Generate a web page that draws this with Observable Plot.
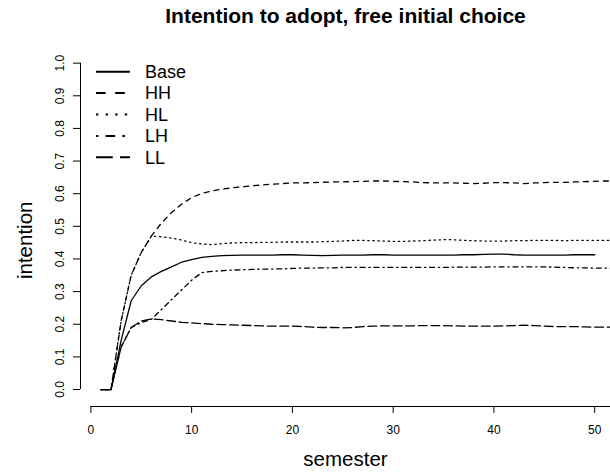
<!DOCTYPE html>
<html>
<head>
<meta charset="utf-8">
<script src="https://cdn.jsdelivr.net/npm/d3@7"></script>
<script src="https://cdn.jsdelivr.net/npm/@observablehq/plot@0.6"></script>
<style>
  body { margin: 0; background: #fff; }
  #chart svg { display: block; }
</style>
</head>
<body>
<div id="chart"></div>
<script>
// ---------- data ----------
const semesters = d3.range(1, 54); // 1..53 (plot is clipped at the right edge)
const seriesNames = ["Base", "HH", "HL", "LH", "LL"];

const base = [0, 0, 0.15, 0.272, 0.318, 0.345, 0.362, 0.376, 0.39, 0.398,
  0.405, 0.408, 0.41, 0.411, 0.412, 0.412, 0.412, 0.412, 0.413, 0.413,
  0.412, 0.411, 0.41, 0.411, 0.412, 0.412, 0.412, 0.413, 0.413, 0.412,
  0.412, 0.412, 0.412, 0.412, 0.412, 0.412, 0.413, 0.413, 0.414, 0.415,
  0.415, 0.413, 0.412, 0.412, 0.412, 0.412, 0.412, 0.413, 0.413, 0.413];

const hh = [0, 0, 0.21, 0.35, 0.42, 0.47, 0.51, 0.542, 0.568, 0.588,
  0.601, 0.608, 0.614, 0.618, 0.621, 0.624, 0.627, 0.629, 0.631, 0.633,
  0.633, 0.634, 0.635, 0.636, 0.636, 0.637, 0.638, 0.639, 0.639, 0.638,
  0.637, 0.636, 0.634, 0.633, 0.633, 0.633, 0.632, 0.631, 0.632, 0.634,
  0.634, 0.633, 0.631, 0.633, 0.634, 0.635, 0.635, 0.636, 0.637, 0.638,
  0.639, 0.639, 0.639];

const hl = [0, 0, 0.21, 0.35, 0.42, 0.47, 0.468, 0.464, 0.458, 0.45,
  0.446, 0.444, 0.447, 0.449, 0.45, 0.45, 0.451, 0.451, 0.452, 0.452,
  0.452, 0.452, 0.453, 0.454, 0.455, 0.457, 0.457, 0.456, 0.455, 0.454,
  0.454, 0.455, 0.456, 0.458, 0.459, 0.459, 0.457, 0.456, 0.455, 0.455,
  0.455, 0.456, 0.456, 0.457, 0.457, 0.457, 0.456, 0.457, 0.457, 0.457,
  0.457, 0.457, 0.457];

const lh = [0, 0, 0.13, 0.19, 0.205, 0.215, 0.245, 0.275, 0.305, 0.335,
  0.358, 0.362, 0.364, 0.366, 0.367, 0.368, 0.369, 0.369, 0.37, 0.371,
  0.372, 0.372, 0.373, 0.373, 0.374, 0.374, 0.374, 0.374, 0.374, 0.374,
  0.374, 0.374, 0.374, 0.374, 0.374, 0.375, 0.375, 0.375, 0.375, 0.376,
  0.376, 0.376, 0.376, 0.376, 0.376, 0.375, 0.374, 0.373, 0.373, 0.372,
  0.372, 0.372, 0.372];

const ll = [0, 0, 0.13, 0.19, 0.21, 0.216, 0.214, 0.21, 0.206, 0.204,
  0.202, 0.2, 0.199, 0.198, 0.197, 0.196, 0.195, 0.194, 0.194, 0.194,
  0.193, 0.191, 0.19, 0.19, 0.189, 0.19, 0.193, 0.194, 0.195, 0.195,
  0.195, 0.195, 0.196, 0.196, 0.196, 0.195, 0.194, 0.194, 0.194, 0.194,
  0.195, 0.196, 0.197, 0.196, 0.194, 0.193, 0.193, 0.193, 0.192, 0.191,
  0.191, 0.191, 0.191];

const xTicks = [0, 10, 20, 30, 40, 50];
const yTicks = [0, 0.1, 0.2, 0.3, 0.4, 0.5, 0.6, 0.7, 0.8, 0.9, 1.0];

const titleText = "Intention to adopt, free initial choice";
const xLabel = "semester";
const yLabel = "intention";

// ---------- build table ----------
const seriesValues = {Base: base, HH: hh, HL: hl, LH: lh, LL: ll};
const rows = [];
for (const name of seriesNames) {
  seriesValues[name].forEach((v, i) => rows.push({series: name, semester: semesters[i], intention: v}));
}

// ---------- styles (R lty equivalents) ----------
const lineStyle = {
  Base: {dash: null,                legendDash: null},
  HH:   {dash: "5,5",               legendDash: "9.6,9.6"},
  HL:   {dash: "1.3,3.8",           legendDash: "2.4,7.2"},
  LH:   {dash: "1.3,3.8,5,3.8",     legendDash: "2.4,7.2,9.6,7.2"},
  LL:   {dash: "8.8,3.8",           legendDash: "16.8,7.2"}
};

// ---------- layout ----------
const W = 610, H = 473;
const margin = {top: 49.6, right: 0, bottom: 67, left: 80};
const xDomain = [-1.03, 51.57];
const yDomain = [-0.052, 1.04];
const font = "'Liberation Sans', Arial, Helvetica, sans-serif";

const lineMarks = seriesNames.map(name => Plot.line(rows.filter(d => d.series === name), {
  x: "semester", y: "intention",
  stroke: "black", strokeWidth: 1.3,
  strokeDasharray: lineStyle[name].dash || undefined,
  strokeLinecap: "round", strokeLinejoin: "round",
  clip: true
}));

const chart = Plot.plot({
  width: W, height: H,
  marginTop: margin.top, marginRight: margin.right, marginBottom: margin.bottom, marginLeft: margin.left,
  style: {fontFamily: font, fontSize: "12px", color: "black", background: "white"},
  x: {domain: xDomain, ticks: xTicks, tickSize: 7, tickPadding: 11.5, tickFormat: d => String(d), label: null},
  y: {domain: yDomain, ticks: yTicks, tickSize: 7, tickFormat: () => "", label: null},
  marks: [
    // axis lines
    Plot.ruleX([xDomain[0]], {y1: yTicks[0], y2: yTicks[yTicks.length - 1], stroke: "black", strokeWidth: 1}),
    Plot.ruleY([yDomain[0]], {x1: xTicks[0], x2: xDomain[1], stroke: "black", strokeWidth: 1}),
    // rotated y tick labels
    Plot.text(yTicks, {x: xDomain[0], y: d => d, text: d => d.toFixed(1), rotate: -90, dx: -17,
      lineAnchor: "bottom", textAnchor: "middle", fontSize: 12, fill: "black"}),
    ...lineMarks,
    // title and axis titles
    Plot.text([titleText], {frameAnchor: "top", dy: 23 - margin.top, lineAnchor: "bottom",
      fontSize: 21, fontWeight: "bold", fill: "black"}),
    Plot.text([xLabel], {frameAnchor: "bottom", dy: 59, lineAnchor: "bottom", fontSize: 20.5, fill: "black"}),
    Plot.text([yLabel], {frameAnchor: "left", dx: -49, dy: 12, rotate: -90, lineAnchor: "bottom",
      textAnchor: "middle", fontSize: 20.5, fill: "black"})
  ]
});

// ---------- legend (top-left, inside plot area) ----------
const legend = {x1: 96, x2: 130, textX: 145, y0: 71.7, step: 21.4, fontSize: 18};
const svg = d3.select(chart);
const lg = svg.append("g").attr("font-family", font).attr("font-size", legend.fontSize)
  .attr("text-anchor", "start");
seriesNames.forEach((name, i) => {
  const y = legend.y0 + i * legend.step;
  const ln = lg.append("line")
    .attr("x1", legend.x1).attr("x2", legend.x2).attr("y1", y).attr("y2", y)
    .attr("stroke", "black").attr("stroke-width", 2).attr("stroke-linecap", "butt");
  if (lineStyle[name].legendDash) ln.attr("stroke-dasharray", lineStyle[name].legendDash);
  lg.append("text").attr("x", legend.textX).attr("y", y).attr("dy", "0.35em")
    .attr("text-anchor", "start").attr("fill", "black").text(name);
});

document.getElementById("chart").appendChild(chart);
</script>
</body>
</html>
